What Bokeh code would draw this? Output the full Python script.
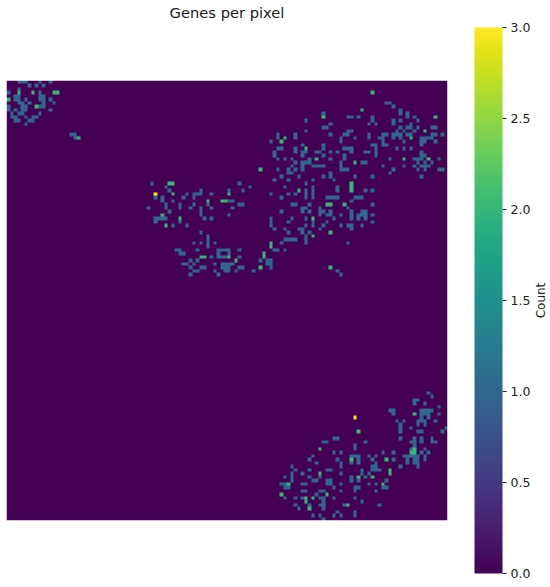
import math
import numpy as np
from bokeh.plotting import figure
from bokeh.models import Range1d, LinearColorMapper, ColorBar, FixedTicker, PrintfTickFormatter, Label, Title
from bokeh.palettes import Viridis256
from bokeh.embed import file_html
from bokeh.resources import INLINE

n_bins = 126
title_text = "Genes per pixel"
colorbar_label = "Count"
colorbar_ticks = [0.0, 0.5, 1.0, 1.5, 2.0, 2.5, 3.0]

# Occupied bins, {row: [columns]}; row 0 is the top row
cluster_top_left = {
    0: [3, 4, 5, 9, 12], 1: [6, 8, 10], 2: [3], 3: [0, 3, 7, 9, 13, 14], 4: [2, 3, 9, 10],
    5: [0, 2, 3, 5, 9, 10, 12], 6: [3, 4, 6, 10, 13], 7: [0, 4, 5, 8, 9, 10], 8: [0, 2, 4, 5, 12],
    9: [1, 3, 4, 9], 10: [1, 2, 5, 7, 8], 11: [2, 3, 6, 7], 12: [5], 15: [18, 19], 16: [19, 20],
}
cluster_middle = {
    28: [76], 29: [41, 46, 47, 66], 30: [45, 69], 31: [46, 55, 63, 67],
    32: [42, 47, 51, 53, 54, 55, 58, 63], 33: [42, 44, 50, 53], 34: [44, 47, 57, 61, 62, 63, 64],
    35: [45, 49, 53, 57, 66, 67], 36: [40, 45, 49, 52, 55, 58, 64], 37: [46, 55], 38: [44, 55, 63],
    39: [42, 43, 44, 45, 49, 56, 58, 75], 40: [42, 49, 75], 41: [45, 47, 51, 75], 43: [55], 44: [57],
    45: [57], 46: [53, 55, 57, 59, 75], 47: [57, 75], 48: [48, 49, 54, 60, 61, 62, 63, 66, 76, 77],
    49: [49, 50, 60, 63], 50: [55, 56, 58, 60, 61, 62, 63, 66, 73], 51: [52, 54, 65, 72, 75],
    52: [50, 51, 53, 59, 61, 62, 63, 64, 74], 53: [52, 55, 56, 61, 62, 63, 66, 67, 72, 75],
    54: [53, 54, 59, 62, 63, 65, 70], 55: [52, 60],
}
cluster_upper_right = {
    3: [104], 6: [108, 109], 7: [110], 8: [101, 112], 9: [90, 112, 114],
    10: [90, 97, 98, 100, 104, 114, 116, 122], 11: [85, 104, 110, 112, 117], 12: [92, 103, 105, 110, 115],
    13: [90, 91, 112, 114, 115, 117, 121, 122], 14: [85, 97, 98, 111, 113, 116, 119],
    15: [77, 82, 92, 96, 97, 103, 107, 108, 110, 111, 112, 114, 115, 121, 122, 124],
    16: [77, 79, 82, 95, 99, 103, 106, 107, 110, 112, 115, 118, 119, 120, 121],
    17: [75, 78, 95, 107, 113, 118, 119, 122], 18: [84, 90, 104, 105, 107, 108, 118],
    19: [77, 78, 82, 85, 90, 96, 97, 98, 105, 111, 113, 115],
    20: [76, 82, 84, 85, 88, 89, 92, 94, 98, 102, 103, 105, 118], 21: [76, 84, 90, 96, 105, 118, 119],
    22: [77, 79, 81, 86, 88, 92, 96, 109, 113, 116, 117, 118, 120, 123],
    23: [82, 84, 85, 86, 95, 99, 101, 102, 117, 119, 121],
    24: [81, 84, 87, 88, 89, 90, 95, 107, 113, 116, 118, 119, 120],
    25: [72, 77, 80, 82, 84, 95, 96, 97, 110, 117, 119, 123, 124], 26: [80, 81, 92, 109],
    27: [78, 83, 90, 92, 99, 104, 118], 28: [76, 80, 87, 93], 29: [85, 98],
}
cluster_centre_right = {
    30: [79, 87, 94, 98], 31: [83, 85, 87, 94, 98, 102, 104], 32: [75, 80, 82, 85, 87],
    33: [78, 85, 87, 91, 92, 93, 94, 99, 100, 101], 34: [98], 35: [81, 82, 86, 91, 92, 96, 104],
    36: [84, 85, 89, 97], 37: [78, 84, 86, 89, 90, 92, 98, 101, 102],
    38: [89, 91, 92, 95, 98, 100, 101, 102, 104], 39: [75, 81, 85, 87, 93, 98, 100, 102],
    40: [75, 80, 87, 91, 104], 41: [85, 87, 90, 95, 97, 98, 101], 42: [76, 79, 83, 84, 89, 98],
    43: [80, 84, 86, 92], 44: [85, 87], 45: [79, 80, 81, 82, 85], 46: [75, 78, 85, 97], 47: [75],
    48: [76, 77, 79], 49: [73], 51: [74], 52: [75], 53: [92], 54: [94], 55: [95],
}
cluster_lower_right = {
    89: [120], 90: [121], 91: [116, 117], 92: [116, 119], 93: [123], 94: [109, 110, 118, 119, 120, 121],
    95: [110, 116, 118, 119, 120, 123], 96: [118, 120], 97: [111, 113, 117, 118, 119, 122],
    98: [112, 117, 119], 99: [112, 115, 125], 100: [100, 112, 117, 118, 124],
    102: [93, 94, 112, 116, 118, 121], 103: [90, 91, 102, 115, 116, 118, 121, 122], 104: [99, 116],
    105: [89, 99, 115, 116, 119], 106: [93, 95, 107, 110, 115, 116, 118, 120],
    107: [87, 98, 99, 100, 103, 105, 113, 114, 115, 116, 117, 119],
    108: [86, 94, 98, 100, 104, 108, 110, 114, 116, 117, 119], 109: [88, 95, 98, 100, 105, 114, 116, 117],
    110: [81, 95, 104, 105, 112, 117], 111: [82, 86, 91, 92, 101, 104, 105, 106, 109],
    112: [81, 84, 89, 95, 101, 103, 109], 113: [79, 81, 86, 89, 98, 100, 102, 104],
    114: [81, 87, 88, 91, 92, 98, 100, 108], 115: [78, 79, 80, 84, 85, 91, 92, 95, 103, 105, 107],
    116: [79, 80, 93, 99, 100, 107, 108], 117: [84, 85, 89, 90, 95, 99, 105], 118: [78, 88, 91],
    119: [79, 82, 84, 85, 87, 89, 90, 93, 99], 120: [85, 90, 101], 121: [82, 86, 89, 90, 96, 97, 106],
    122: [83, 86, 90], 123: [94, 99], 124: [87, 89, 93, 95, 99], 125: [90],
}
# Bins that hold two genes
count_two = {
    3: [3, 7, 13, 14, 104], 5: [0], 7: [8], 16: [20, 79, 115], 8: [101], 10: [90, 122], 14: [119],
    17: [78], 19: [85], 22: [88, 113, 120], 23: [99], 25: [72], 29: [46, 47, 98], 30: [98],
    31: [83, 98], 32: [47, 63], 34: [57, 61, 62], 35: [91, 92, 96], 38: [44], 39: [49, 87], 41: [45],
    43: [92], 44: [87], 46: [75], 47: [75], 49: [73], 50: [55, 56, 63, 73], 51: [65], 53: [72, 92],
    95: [116], 100: [100], 105: [89, 116], 106: [115, 116], 108: [98, 108], 111: [109], 112: [89, 109],
    113: [100, 104], 115: [80, 107], 118: [78, 91], 119: [85, 87], 120: [85], 121: [97], 122: [86],
}
# Bins that hold three genes
count_three = {32: [42], 96: [99]}

grid = np.zeros((n_bins, n_bins))
for level, groups in [(1, [cluster_top_left, cluster_middle, cluster_upper_right, cluster_centre_right, cluster_lower_right]),
                      (2, [count_two]), (3, [count_three])]:
    for group in groups:
        for row, cols in group.items():
            for col in cols:
                grid[row, col] = level

FONT = "DejaVu Sans"
mapper = LinearColorMapper(palette=Viridis256, low=0, high=3)

p = figure(width=550, height=587, output_backend="svg", toolbar_location=None,
           x_range=Range1d(0, n_bins), y_range=Range1d(0, n_bins),
           min_border_left=6, min_border_right=103, min_border_top=80, min_border_bottom=67,
           margin=0)
p.background_fill_color = "white"
p.border_fill_color = "white"
p.outline_line_color = None
p.grid.visible = False
p.axis.visible = False

p.add_layout(Title(text=" ", text_font_size="12px", standoff=44), "above")
p.add_layout(Title(text=title_text, align="center", text_font=FONT, text_font_size="14.7px",
                   text_font_style="normal", text_color="#1a1a1a", standoff=0), "above")

p.image(image=[grid[::-1]], x=0, y=0, dw=n_bins, dh=n_bins, color_mapper=mapper)

bar = ColorBar(color_mapper=mapper, ticker=FixedTicker(ticks=colorbar_ticks),
               formatter=PrintfTickFormatter(format="%.1f"),
               width=28, height=546, location=(468, -53), padding=0, margin=0,
               background_fill_color=None, bar_line_color=None,
               major_tick_in=0, major_tick_out=4, major_tick_line_color="#222222",
               minor_tick_line_color=None, label_standoff=4,
               major_label_text_font=FONT, major_label_text_font_size="12.5px",
               major_label_text_color="#222222")
p.add_layout(bar)

p.add_layout(Label(x=93, y=220, x_units="screen", y_units="screen", text=colorbar_label,
                   angle=math.pi / 2, text_align="center", text_baseline="middle",
                   text_font=FONT, text_font_size="12px", text_color="#222222"), "right")

open("out.html", "w").write(file_html(p, INLINE))
